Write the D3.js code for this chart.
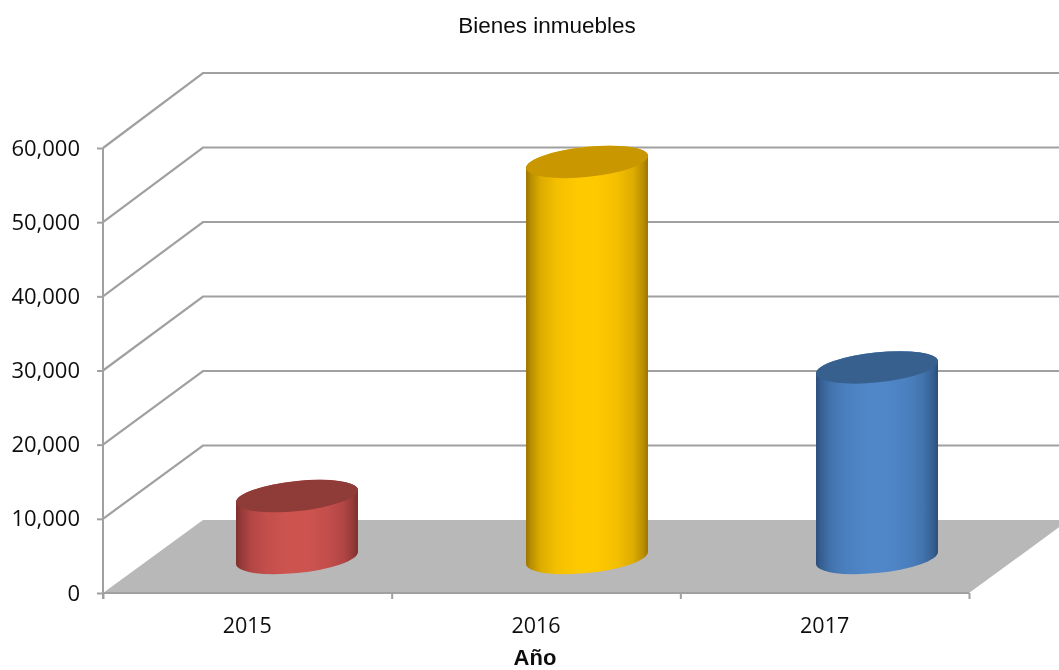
<!DOCTYPE html>
<html><head><meta charset="utf-8">
<script src="https://cdn.jsdelivr.net/npm/d3@7"></script>
<style>html,body{margin:0;padding:0;background:#fff;overflow:hidden}</style>
</head><body><svg id="c" width="1059" height="670"></svg>
<script>
const years = ["2015","2016","2017"];
const values = [8350,53400,25700];
const yTicks = [0,10000,20000,30000,40000,50000,60000];
const topColors = ["#8f3b39","#c99700","#37618f"];
const edgeColors = ["#7c2f2d","#9c7500","#2b4e79"];
const midColors = ["#cd5350","#ffc900","#4f87c9"];
const chartTitle = "Bienes inmuebles";
const xTitle = "Año";

const svg = d3.select("#c");
const W = 1059, H = 670;
const grid = "#a0a0a0";
const tickFont = "'Open Sans',sans-serif";
const x = d3.scaleBand().domain(years).range([103,969]);
const xBar = d3.scalePoint().domain(years).range([297,877]);
const y = d3.scaleLinear().domain([0,60000]).range([593,148]);
const yBack = d3.scaleLinear().domain([0,60000]).range([520,73]);
const backX = 203;

const defs = svg.append("defs");
defs.append("filter").attr("id","soft").append("feGaussianBlur").attr("stdDeviation",0.7);
defs.append("filter").attr("id","softText").append("feGaussianBlur").attr("stdDeviation",0.3);
defs.append("clipPath").attr("id","page").append("rect").attr("width",W).attr("height",H);
years.forEach((yr,i)=>{
  const g = defs.append("linearGradient").attr("id","g"+i);
  const mix = d3.interpolateRgb(edgeColors[i],midColors[i]);
  [[0,mix(0)],[.04,mix(.3)],[.12,mix(.65)],[.25,mix(.88)],[.42,mix(1)],[.58,mix(1)],[.75,mix(.88)],[.88,mix(.65)],[.96,mix(.3)],[1,mix(0)]]
    .forEach(([o,c])=>g.append("stop").attr("offset",o).attr("stop-color",c));
});

const root = svg.append("g").attr("clip-path","url(#page)");
const art = root.append("g").attr("filter","url(#soft)");

// floor
const line = d3.line();
const x0 = x.range()[0], x1 = x.range()[1];
art.append("path")
  .attr("d",line([[x0,y(0)],[backX,yBack(0)],[x1+backX-x0,yBack(0)],[x1,y(0)]])+"Z")
  .attr("fill","#b8b8b8");

// walls
art.selectAll(".wall").data(yTicks).join("path")
  .attr("class","wall")
  .attr("fill","none").attr("stroke",grid).attr("stroke-width",2.2)
  .attr("d",d=> d===0
    ? line([[x0,y(0)],[x1,y(0)]])
    : line([[x0,y(d)],[backX,yBack(d)],[W+5,yBack(d)]]));

// axes
const gy = art.append("g").attr("transform",`translate(${x0},0)`)
  .call(d3.axisLeft(y).tickValues(yTicks).tickFormat("").tickSize(6));
const gx = art.append("g").attr("transform",`translate(0,${y(0)})`)
  .call(d3.axisBottom(d3.scaleLinear().domain([0,3]).range(x.range())).tickValues([0,1,2,3]).tickSize(6).tickFormat(""));
[gy,gx].forEach(g=>g.selectAll("path,line").attr("stroke",grid).attr("stroke-width",2));
gx.select(".domain").remove();
gy.select(".domain").attr("d",line([[0,y(60000)],[0,y(0)+6]]));

// cylinders
const deg=-6, th = -deg*Math.PI/180, rx=61.3, ry=15;
const halfW = Math.sqrt(rx*rx*Math.cos(th)**2+ry*ry*Math.sin(th)**2);
const off = (rx*rx-ry*ry)*Math.sin(th)*Math.cos(th)/halfW;
art.selectAll(".bar").data(years).join("g").attr("class","bar").each(function(yr,i){
  const cx = xBar(yr);
  const base = 558;
  const top = base-(y(0)-y(values[i]));
  const g = d3.select(this);
  g.append("path").attr("fill",`url(#g${i})`)
   .attr("d",`M${cx-halfW},${top+off}A${rx},${ry} ${deg} 0 1 ${cx+halfW},${top-off}L${cx+halfW},${base-off}A${rx},${ry} ${deg} 0 1 ${cx-halfW},${base+off}Z`);
  g.append("ellipse").attr("rx",rx).attr("ry",ry).attr("fill",topColors[i])
   .attr("transform",`translate(${cx},${top}) rotate(${deg})`);
});

// text
const txt = root.append("g").attr("filter","url(#softText)");
txt.selectAll(".yl").data(yTicks).join("text").attr("class","yl")
  .attr("x",80).attr("y",d=>y(d)+7.5).attr("text-anchor","end")
  .attr("font-family",tickFont).attr("font-size",22).attr("fill","#111")
  .text(d3.format(","));
txt.selectAll(".xl").data(years).join("text").attr("class","xl")
  .attr("x",d=>x(d)+x.bandwidth()/2).attr("y",633).attr("text-anchor","middle")
  .attr("font-family",tickFont).attr("font-size",21.5).attr("fill","#111")
  .text(d=>d);
txt.append("text").attr("x",547).attr("y",33).attr("text-anchor","middle")
  .attr("font-family","'Liberation Sans',sans-serif").attr("font-size",22.5).attr("fill","#111").text(chartTitle);
txt.append("text").attr("x",535).attr("y",665).attr("text-anchor","middle")
  .attr("font-family","'Liberation Sans',sans-serif").attr("font-size",22).attr("font-weight","bold").attr("fill","#111").text(xTitle);
</script></body></html>
